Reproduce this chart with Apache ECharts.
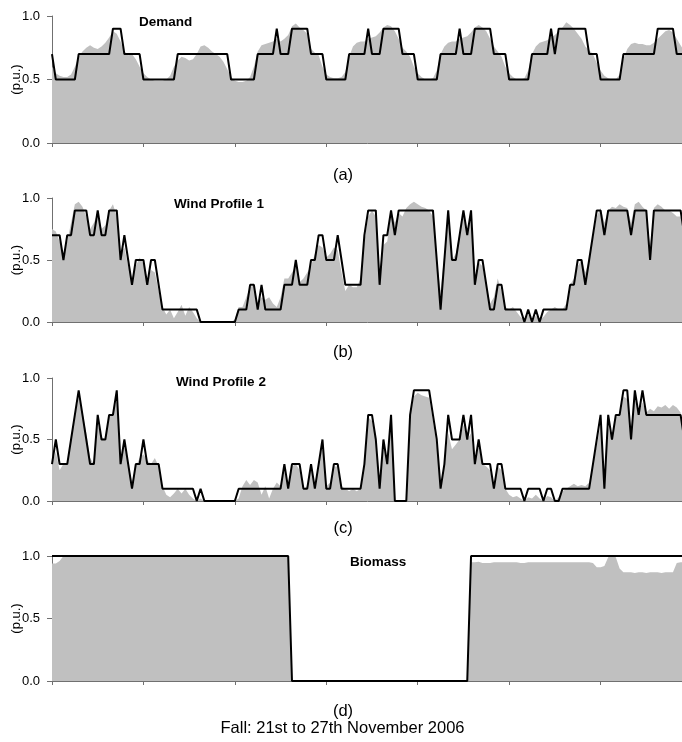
<!DOCTYPE html>
<html>
<head>
<meta charset="utf-8">
<script src="https://cdn.jsdelivr.net/npm/echarts@6/dist/echarts.min.js"></script>
<style>
html,body{margin:0;padding:0;background:#fff;}
#chart{width:682px;height:742px;}
</style>
</head>
<body>
<div id="chart"></div>
<script>
// Hour index (0..167) for 21st to 27th November 2006
const hours = [];
for (let i = 0; i < 168; i++) hours.push(i);

const panelTitles = ['Demand', 'Wind Profile 1', 'Wind Profile 2', 'Biomass'];
const panelCaptions = ['(a)', '(b)', '(c)', '(d)'];
const xAxisTitle = 'Fall: 21st to 27th November 2006';
const yAxisTitle = '(p.u.)';
const yTicks = [0, 0.5, 1.0];

// Demand: actual profile (grey) and discretised profile (black)
const demandActual = [
  0.6,0.55,0.53,0.52,0.52,0.54,0.6,0.68,0.72,0.75,0.77,0.75,0.74,0.76,0.79,0.83,0.88,0.86,0.8,0.72,0.69,0.7,0.66,0.6,
  0.55,0.52,0.5,0.49,0.49,0.49,0.5,0.53,0.6,0.65,0.68,0.67,0.65,0.66,0.7,0.76,0.77,0.75,0.72,0.7,0.68,0.64,0.58,0.52,
  0.49,0.48,0.48,0.49,0.52,0.6,0.72,0.77,0.78,0.79,0.8,0.82,0.8,0.82,0.85,0.92,0.94,0.91,0.89,0.86,0.74,0.71,0.69,0.6,
  0.54,0.52,0.51,0.51,0.52,0.56,0.68,0.76,0.79,0.8,0.8,0.82,0.83,0.84,0.87,0.91,0.93,0.92,0.88,0.82,0.75,0.72,0.68,0.6,
  0.55,0.52,0.5,0.5,0.51,0.57,0.7,0.76,0.79,0.8,0.8,0.82,0.83,0.84,0.87,0.91,0.93,0.91,0.88,0.82,0.76,0.72,0.68,0.6,
  0.55,0.52,0.5,0.5,0.51,0.57,0.7,0.76,0.79,0.8,0.81,0.83,0.85,0.88,0.91,0.95,0.93,0.9,0.86,0.82,0.76,0.73,0.7,0.63,
  0.57,0.53,0.51,0.5,0.5,0.54,0.66,0.74,0.78,0.79,0.78,0.78,0.77,0.77,0.79,0.82,0.85,0.88,0.89,0.87,0.82,0.77,0.72,0.68
];
const demandLevel = [
  0.7,0.5,0.5,0.5,0.5,0.5,0.5,0.7,0.7,0.7,0.7,0.7,0.7,0.7,0.7,0.7,0.9,0.9,0.9,0.7,0.7,0.7,0.7,0.7,
  0.5,0.5,0.5,0.5,0.5,0.5,0.5,0.5,0.5,0.7,0.7,0.7,0.7,0.7,0.7,0.7,0.7,0.7,0.7,0.7,0.7,0.7,0.7,0.5,
  0.5,0.5,0.5,0.5,0.5,0.5,0.7,0.7,0.7,0.7,0.7,0.9,0.7,0.7,0.7,0.9,0.9,0.9,0.9,0.9,0.7,0.7,0.7,0.7,
  0.5,0.5,0.5,0.5,0.5,0.5,0.7,0.7,0.7,0.7,0.7,0.9,0.7,0.7,0.7,0.9,0.9,0.9,0.9,0.9,0.7,0.7,0.7,0.7,
  0.5,0.5,0.5,0.5,0.5,0.5,0.7,0.7,0.7,0.7,0.7,0.9,0.7,0.7,0.7,0.9,0.9,0.9,0.9,0.9,0.7,0.7,0.7,0.7,
  0.5,0.5,0.5,0.5,0.5,0.5,0.7,0.7,0.7,0.7,0.7,0.9,0.7,0.9,0.9,0.9,0.9,0.9,0.9,0.9,0.9,0.7,0.7,0.7,
  0.5,0.5,0.5,0.5,0.5,0.5,0.7,0.7,0.7,0.7,0.7,0.7,0.7,0.7,0.7,0.9,0.9,0.9,0.9,0.9,0.7,0.7,0.7,0.7
];

// Wind Profile 1
const wind1Actual = [
  0.75,0.73,0.65,0.55,0.65,0.8,0.95,0.97,0.93,0.85,0.75,0.8,0.88,0.75,0.78,0.9,0.95,0.85,0.55,0.6,0.45,0.35,0.45,0.52,
  0.47,0.35,0.42,0.4,0.25,0.12,0.06,0.1,0.03,0.08,0.14,0.05,0.12,0.08,0.03,0,0,0,0,0,0,0,0,0,
  0.02,0.12,0.12,0.2,0.28,0.3,0.15,0.2,0.18,0.2,0.15,0.12,0.2,0.35,0.35,0.4,0.45,0.32,0.35,0.4,0.45,0.55,0.62,0.6,
  0.52,0.55,0.6,0.58,0.4,0.25,0.3,0.28,0.28,0.35,0.65,0.85,0.9,0.85,0.4,0.62,0.65,0.9,0.8,0.88,0.85,0.92,0.95,0.97,
  0.95,0.93,0.92,0.9,0.85,0.5,0.25,0.55,0.85,0.5,0.55,0.72,0.85,0.72,0.85,0.35,0.48,0.45,0.3,0.15,0.2,0.35,0.25,0.12,
  0.1,0.12,0.08,0.04,0.02,0.06,0.01,0.05,0.02,0.04,0.08,0.1,0.12,0.1,0.1,0.15,0.3,0.35,0.45,0.5,0.4,0.5,0.68,0.85,
  0.92,0.8,0.9,0.93,0.92,0.95,0.93,0.92,0.8,0.95,0.97,0.93,0.9,0.6,0.92,0.95,0.93,0.9,0.9,0.88,0.85,0.85,0.72,0.7
];
const wind1Level = [
  0.7,0.7,0.7,0.5,0.7,0.7,0.9,0.9,0.9,0.9,0.7,0.7,0.9,0.7,0.7,0.9,0.9,0.9,0.5,0.7,0.5,0.3,0.5,0.5,
  0.5,0.3,0.5,0.5,0.3,0.1,0.1,0.1,0.1,0.1,0.1,0.1,0.1,0.1,0.1,0,0,0,0,0,0,0,0,0,
  0,0.1,0.1,0.1,0.3,0.3,0.1,0.3,0.1,0.1,0.1,0.1,0.1,0.3,0.3,0.3,0.5,0.3,0.3,0.3,0.5,0.5,0.7,0.7,
  0.5,0.5,0.5,0.7,0.5,0.3,0.3,0.3,0.3,0.3,0.7,0.9,0.9,0.9,0.3,0.7,0.7,0.9,0.7,0.9,0.9,0.9,0.9,0.9,
  0.9,0.9,0.9,0.9,0.9,0.5,0.1,0.5,0.9,0.5,0.5,0.7,0.9,0.7,0.9,0.3,0.5,0.5,0.3,0.1,0.1,0.3,0.3,0.1,
  0.1,0.1,0.1,0.1,0,0.1,0,0.1,0,0.1,0.1,0.1,0.1,0.1,0.1,0.1,0.3,0.3,0.5,0.5,0.3,0.5,0.7,0.9,
  0.9,0.7,0.9,0.9,0.9,0.9,0.9,0.9,0.7,0.9,0.9,0.9,0.9,0.5,0.9,0.9,0.9,0.9,0.9,0.9,0.9,0.9,0.7,0.7
];

// Wind Profile 2
const wind2Actual = [
  0.3,0.4,0.25,0.3,0.3,0.5,0.68,0.85,0.72,0.55,0.35,0.3,0.62,0.52,0.5,0.68,0.72,0.82,0.35,0.45,0.3,0.15,0.28,0.35,
  0.38,0.33,0.3,0.35,0.28,0.12,0.05,0.03,0.06,0.1,0.06,0.1,0.05,0.02,0,0.02,0,0,0,0,0,0,0,0,
  0,0.02,0.12,0.17,0.13,0.17,0.15,0.05,0.12,0.02,0.1,0.15,0.12,0.25,0.1,0.28,0.3,0.25,0.1,0.12,0.27,0.12,0.3,0.45,
  0.12,0.15,0.28,0.28,0.12,0.1,0.08,0.1,0.08,0.1,0.3,0.68,0.65,0.5,0.12,0.48,0.3,0.65,0,0,0,0,0.7,0.85,
  0.88,0.86,0.85,0.84,0.65,0.45,0.1,0.3,0.55,0.42,0.46,0.5,0.62,0.5,0.55,0.3,0.45,0.3,0.28,0.25,0.1,0.28,0.25,0.1,
  0.05,0.03,0.04,0.02,0,0.03,0.02,0.05,0.02,0,0.04,0.03,0,0.03,0.08,0.1,0.12,0.14,0.12,0.13,0.12,0.15,0.3,0.45,
  0.62,0.15,0.6,0.5,0.68,0.7,0.85,0.83,0.55,0.85,0.72,0.8,0.72,0.75,0.73,0.77,0.76,0.78,0.75,0.78,0.76,0.72,0.5,0.5
];
const wind2Level = [
  0.3,0.5,0.3,0.3,0.3,0.5,0.7,0.9,0.7,0.5,0.3,0.3,0.7,0.5,0.5,0.7,0.7,0.9,0.3,0.5,0.3,0.1,0.3,0.3,
  0.5,0.3,0.3,0.3,0.3,0.1,0.1,0.1,0.1,0.1,0.1,0.1,0.1,0.1,0,0.1,0,0,0,0,0,0,0,0,
  0,0.1,0.1,0.1,0.1,0.1,0.1,0.1,0.1,0.1,0.1,0.1,0.1,0.3,0.1,0.3,0.3,0.3,0.1,0.1,0.3,0.1,0.3,0.5,
  0.1,0.1,0.3,0.3,0.1,0.1,0.1,0.1,0.1,0.1,0.3,0.7,0.7,0.5,0.1,0.5,0.3,0.7,0,0,0,0,0.7,0.9,
  0.9,0.9,0.9,0.9,0.7,0.5,0.1,0.3,0.7,0.5,0.5,0.5,0.7,0.5,0.7,0.3,0.5,0.3,0.3,0.3,0.1,0.3,0.3,0.1,
  0.1,0.1,0.1,0.1,0,0.1,0.1,0.1,0.1,0,0.1,0.1,0,0,0.1,0.1,0.1,0.1,0.1,0.1,0.1,0.1,0.3,0.5,
  0.7,0.1,0.7,0.5,0.7,0.7,0.9,0.9,0.5,0.9,0.7,0.9,0.7,0.7,0.7,0.7,0.7,0.7,0.7,0.7,0.7,0.7,0.5,0.5
];

// Biomass
const biomassActual = [
  0.94,0.94,0.96,1,1,1,1,1,1,1,1,1,1,1,1,1,1,1,1,1,1,1,1,1,
  1,1,1,1,1,1,1,1,1,1,1,1,1,1,1,1,1,1,1,1,1,1,1,1,
  1,1,1,1,1,1,1,1,1,1,1,1,1,1,1,0,0,0,0,0,0,0,0,0,
  0,0,0,0,0,0,0,0,0,0,0,0,0,0,0,0,0,0,0,0,0,0,0,0,
  0,0,0,0,0,0,0,0,0,0,0,0,0,0,0.95,0.95,0.955,0.945,0.945,0.945,0.95,0.95,0.95,0.95,
  0.95,0.95,0.95,0.945,0.945,0.95,0.95,0.95,0.95,0.95,0.95,0.95,0.95,0.95,0.95,0.95,0.95,0.95,0.95,0.95,0.95,0.95,0.945,0.91,
  0.91,0.92,0.99,1,0.99,0.9,0.87,0.87,0.87,0.865,0.87,0.87,0.865,0.87,0.87,0.87,0.865,0.87,0.87,0.87,0.945,0.95,0.95,0.95
];
const biomassLevel = [
  1,1,1,1,1,1,1,1,1,1,1,1,1,1,1,1,1,1,1,1,1,1,1,1,
  1,1,1,1,1,1,1,1,1,1,1,1,1,1,1,1,1,1,1,1,1,1,1,1,
  1,1,1,1,1,1,1,1,1,1,1,1,1,1,1,0,0,0,0,0,0,0,0,0,
  0,0,0,0,0,0,0,0,0,0,0,0,0,0,0,0,0,0,0,0,0,0,0,0,
  0,0,0,0,0,0,0,0,0,0,0,0,0,0,1,1,1,1,1,1,1,1,1,1,
  1,1,1,1,1,1,1,1,1,1,1,1,1,1,1,1,1,1,1,1,1,1,1,1,
  1,1,1,1,1,1,1,1,1,1,1,1,1,1,1,1,1,1,1,1,1,1,1,1
];

const actualSets = [demandActual, wind1Actual, wind2Actual, biomassActual];
const levelSets = [demandLevel, wind1Level, wind2Level, biomassLevel];

// ---------- layout / style ----------
const FONT = 'Liberation Sans, Arial, Helvetica, sans-serif';
const gridTops = [16, 198, 378, 556];
const gridHeights = [127, 124, 123, 125];
const titlePos = [[139, 22], [174, 204.5], [176, 382], [350, 562.5]];
const captionY = [175, 352, 528, 711];

const grids = [], xAxes = [], yAxes = [], series = [], graphics = [];
for (let p = 0; p < 4; p++) {
  grids.push({left: 52, top: gridTops[p], width: 640, height: gridHeights[p],
    containLabel: false, outerBoundsMode: 'none'});
  xAxes.push({
    type: 'value', gridIndex: p, min: 0, max: 168, interval: 24,
    axisLine: {show: true, lineStyle: {color: '#707070', width: 1}},
    axisTick: {show: true, length: 4, lineStyle: {color: '#707070'}},
    axisLabel: {show: false}, splitLine: {show: false}
  });
  yAxes.push({
    type: 'value', gridIndex: p, min: 0, max: 1, interval: 0.5,
    axisLine: {show: true, lineStyle: {color: '#707070', width: 1}},
    axisTick: {show: true, length: 5, lineStyle: {color: '#707070'}},
    axisLabel: {show: true, color: '#000', fontSize: 13, fontFamily: FONT, margin: 12,
      formatter: v => v.toFixed(1)},
    splitLine: {show: false},
    name: yAxisTitle, nameLocation: 'middle', nameRotate: 90, nameGap: 29,
    nameMoveOverlap: false,
    nameTextStyle: {color: '#000', fontSize: 13, fontFamily: FONT}
  });
  series.push({
    type: 'line', xAxisIndex: p, yAxisIndex: p, z: 2,
    data: hours.map((h, i) => [h, actualSets[p][i]]),
    showSymbol: false, symbol: 'none',
    lineStyle: {width: 0, color: '#c0c0c0'},
    areaStyle: {color: '#c0c0c0', opacity: 1},
    itemStyle: {color: '#c0c0c0'},
    silent: true
  });
  series.push({
    type: 'line', xAxisIndex: p, yAxisIndex: p, z: 3,
    data: hours.map((h, i) => [h, levelSets[p][i]]),
    showSymbol: false, symbol: 'none',
    lineStyle: {width: 2, color: '#000'},
    itemStyle: {color: '#000'},
    silent: true
  });
  graphics.push({
    type: 'text', x: titlePos[p][0], y: titlePos[p][1], z: 10,
    style: {text: panelTitles[p], font: 'bold 13.5px ' + FONT, fill: '#000',
      textAlign: 'left', textVerticalAlign: 'middle', align: 'left', verticalAlign: 'middle'}
  });
  graphics.push({
    type: 'text', x: 343, y: captionY[p], z: 10,
    style: {text: panelCaptions[p], font: '16.5px ' + FONT, fill: '#000',
      textAlign: 'center', textVerticalAlign: 'middle', align: 'center', verticalAlign: 'middle'}
  });
}
graphics.push({
  type: 'text', x: 342.5, y: 728, z: 10,
  style: {text: xAxisTitle, font: '16.5px ' + FONT, fill: '#000',
    textAlign: 'center', textVerticalAlign: 'middle', align: 'center', verticalAlign: 'middle'}
});

const chart = echarts.init(document.getElementById('chart'), null, {renderer: 'canvas'});
chart.setOption({
  animation: false,
  backgroundColor: '#fff',
  grid: grids,
  xAxis: xAxes,
  yAxis: yAxes,
  series: series,
  graphic: graphics
});
</script>
</body>
</html>
